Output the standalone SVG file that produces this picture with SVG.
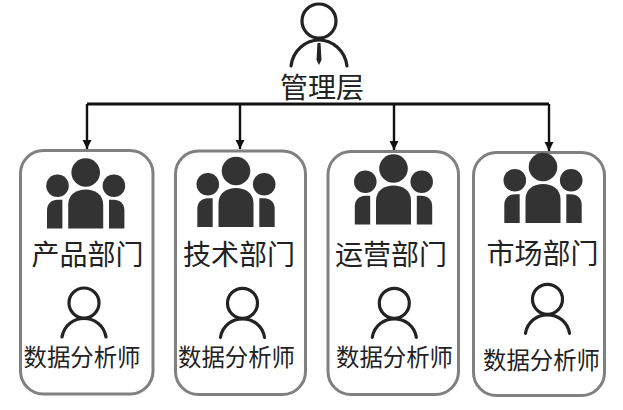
<svg xmlns="http://www.w3.org/2000/svg" width="623" height="410" viewBox="0 0 623 410">
<style>
text{font-family:"Noto Sans CJK SC","Noto Sans",sans-serif;fill:#222;text-anchor:middle}
.t{font-size:28px}
.s{font-size:23.4px}
.box{fill:#fff;stroke:#808080;stroke-width:3}
.line{fill:none;stroke:#111;stroke-width:2.8}
.drop{fill:none;stroke:#111;stroke-width:2.4}
.p{fill:none;stroke:#222;stroke-width:3.2;stroke-linecap:round}
.g{fill:#333}
</style>
<defs>
<marker id="arrow" markerUnits="userSpaceOnUse" markerWidth="12" markerHeight="12" refX="9" refY="6" orient="auto">
<path d="M0 1.500L9 6L0 10.500z" fill="#111"/>
</marker>
<g id="team">
<circle class="g" cx="0" cy="0" r="14.300"/>
<circle class="g" cx="-28.200" cy="13.300" r="11.300"/>
<circle class="g" cx="28.200" cy="13.300" r="11.300"/>
<path class="g" d="M-17.500 56V32C-17.500 22-9 17 0 17S17.500 22 17.500 32V56z"/>
<path class="g" d="M-38.700 56V38C-38.700 31-34 27.300-28 27.300H-23.300V56z"/>
<path class="g" d="M38.700 56V38C38.700 31 34 27.300 28 27.300H23.300V56z"/>
</g>
<g id="person">
<circle class="p" cx="0" cy="0" r="15"/>
<path class="p" d="M-22 34C-20 22-10 15.500 0 15.500S20 22 22 34"/>
</g>
</defs>
<rect width="623" height="410" fill="#fff"/>
<g id="connectors">
<path class="line" d="M87 104H549"/>
<path class="drop" marker-end="url(#arrow)" d="M87 104V149"/>
<path class="drop" marker-end="url(#arrow)" d="M240 104V149"/>
<path class="drop" marker-end="url(#arrow)" d="M394 104V150"/>
<path class="drop" marker-end="url(#arrow)" d="M549 104V151"/>
</g>
<g id="management">
<circle class="p" cx="319" cy="21" r="17"/>
<path class="p" d="M291 66C293 50 306 40 319 40S345 50 347 66"/>
<path d="M317.500 43H320.500L321.500 60L319 65L316.500 60z" fill="#222"/>
<text class="t" x="322" y="98">管理层</text>
</g>
<g id="dept1">
<rect class="box" x="20.500" y="150.500" width="132.500" height="243.500" rx="23"/>
<use href="#team" x="85.700" y="172.500"/>
<text class="t" x="87.500" y="265">产品部门</text>
<use href="#person" x="84" y="303"/>
<text class="s" x="82" y="366">数据分析师</text>
</g>
<g id="dept2">
<rect class="box" x="175.500" y="151" width="130" height="243.500" rx="23"/>
<use href="#team" x="236" y="171"/>
<text class="t" x="239" y="265">技术部门</text>
<use href="#person" x="242.500" y="303.300"/>
<text class="s" x="236.500" y="366">数据分析师</text>
</g>
<g id="dept3">
<rect class="box" x="328" y="151.500" width="130.500" height="243" rx="23"/>
<use href="#team" x="393.500" y="168.500"/>
<text class="t" x="391" y="265">运营部门</text>
<use href="#person" x="394.300" y="303.300"/>
<text class="s" x="394.500" y="365.500">数据分析师</text>
</g>
<g id="dept4">
<rect class="box" x="473.500" y="152.500" width="131" height="243" rx="23"/>
<use href="#team" x="543" y="167"/>
<text class="t" x="542.500" y="264">市场部门</text>
<use href="#person" x="547.500" y="299.300"/>
<text class="s" x="541.500" y="369">数据分析师</text>
</g>
</svg>
